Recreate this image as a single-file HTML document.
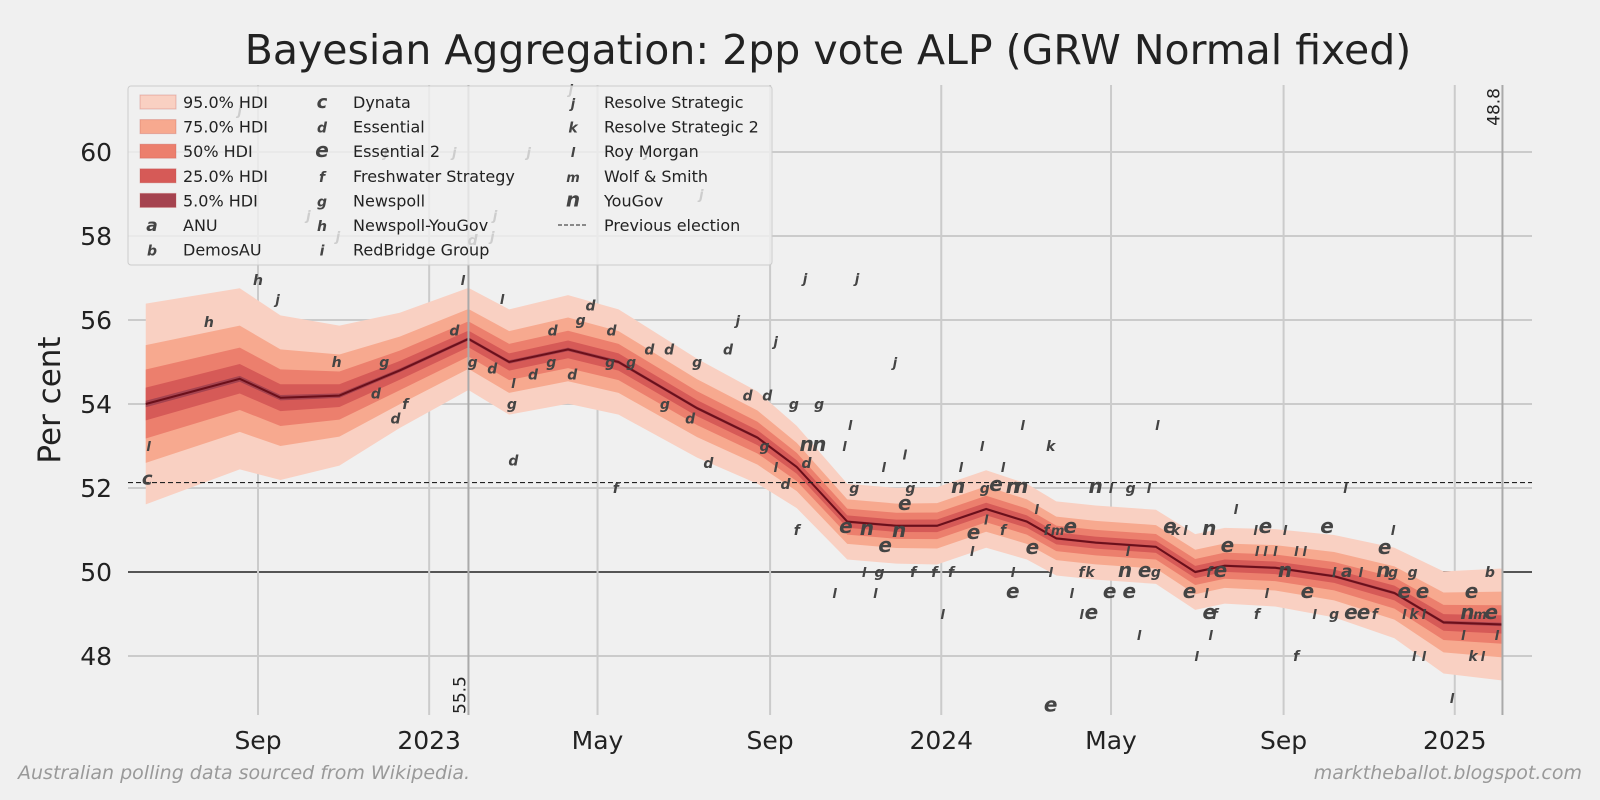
<!DOCTYPE html>
<html><head><meta charset="utf-8"><style>
body{margin:0;background:#f0f0f0;}
svg{display:block;font-family:"DejaVu Sans","Liberation Sans",sans-serif;}
</style></head><body>
<svg id="chart" width="1600" height="800" viewBox="0 0 1600 800">
<rect width="1600" height="800" fill="#f0f0f0"/>
<g id="grid"></g><g id="bands"></g><g id="refs"></g><g id="polls"></g><g id="axes"></g><g id="legend"></g>
<text x="828" y="64" text-anchor="middle" font-size="41" fill="#222">Bayesian Aggregation: 2pp vote ALP (GRW Normal fixed)</text>
<text transform="translate(60,400) rotate(-90)" text-anchor="middle" font-size="31" fill="#222">Per cent</text>
<text x="18" y="779" font-size="19" font-style="italic" fill="#999">Australian polling data sourced from Wikipedia.</text>
<text x="1582" y="779" text-anchor="end" font-size="19" font-style="italic" fill="#999">marktheballot.blogspot.com</text>
</svg>
<script>
// days since 1 Sep 2022
const medDays=[-80,-13,16,58,101,150,179,221,257,313,356,384,420,455,484,519,548,569,597,640,668,689,725,767,810,845,887];
const medVals=[54.0,54.6,54.15,54.2,54.8,55.55,55.0,55.3,55.0,53.9,53.2,52.5,51.2,51.1,51.1,51.5,51.2,50.8,50.7,50.6,50.0,50.15,50.1,49.9,49.5,48.8,48.75];
const sigmas=[1.22,1.1,1.0,0.85,0.7,0.62,0.64,0.66,0.64,0.6,0.56,0.5,0.46,0.46,0.47,0.47,0.46,0.45,0.45,0.45,0.46,0.46,0.47,0.5,0.55,0.62,0.68];
const bandLabels=["95.0% HDI","75.0% HDI","50% HDI","25.0% HDI","5.0% HDI"];
const bandZ=[1.96,1.15,0.674,0.319,0.063];
const bandColors=["#f9d0c2","#f7a98f","#ec7f6d","#d65a57","#a5434f"];
const yTicks=[48,50,52,54,56,58,60];
const xTickDays=[0,122,242,365,487,608,731,853];
const xTickLabels=["Sep","2023","May","Sep","2024","May","Sep","2025"];
const prevElection=52.13;
const pollDays=[-79,-78,-35,-13,0,14,56,90,84,98,105,91,140,146,153,140,167,174,181,182,182,196,209,210,224,230,237,223,193,255,252,251,266,279,293,290,308,313,321,335,342,349,363,369,382,400,361,369,376,384,390,391,400,391,418,422,425,427,419,434,447,446,461,454,432,443,467,482,494,440,411,461,457,465,488,499,510,509,501,516,519,531,518,526,538,544,531,545,538,538,555,552,562,570,565,565,579,587,593,580,587,594,597,608,622,635,607,621,618,632,640,628,620,641,650,654,661,664,678,682,676,679,669,678,678,691,697,686,711,718,712,718,725,732,712,719,732,740,746,740,748,753,762,767,779,788,796,767,776,775,786,802,809,823,803,809,817,817,830,824,831,824,831,851,865,862,871,879,878,859,866,873,883,565,36,57,169,167,153,316,277];
const pollVals=[52.2,53.0,55.95,61,56.95,56.5,55.0,55.0,54.25,53.65,54.0,60,60,56.95,55.0,55.75,54.85,56.5,54.0,54.5,52.65,54.7,55.0,55.75,54.7,56.0,56.35,61.5,60,52.0,55.75,55.0,55.0,55.3,55.3,54.0,53.65,55.0,52.6,55.3,56.0,54.2,54.2,55.5,54.0,54.0,53.0,52.5,52.1,51.0,57.0,53.0,53.0,52.6,53.0,53.5,52.0,57.0,51.05,51.0,50.6,52.5,52.8,55.0,50,50,50,50,50,49.5,49.5,51.6,50.95,52,49,52.0,50.9,50.5,52.5,53,51.25,52.5,52,52.05,52,52,51.0,53.5,49.5,50,51.5,50.55,51,51,53,50,51.05,50,50,49.5,49,49,52,52,52,52,49.5,49.5,50,50,50,48.5,50.5,53.5,51.05,51,51,49.5,49,49,49.5,48.5,48,51,50,50.6,51.5,50,51,51.05,50.5,50.5,50.5,51,49,49.5,50,50.5,50.5,48,49.5,49,51.05,49,49,49,49,50,50,52,50,50,50,50,50.55,51,49.5,49,49.5,49,49,48,48,47,49.5,49,49,49,50,48.5,48,48,48.5,46.8,58.5,58.0,58.5,58.0,57.9,59,60];
const pollLetters=["c","l","h","j","h","j","h","g","d","d","f","j","j","l","g","d","d","l","g","l","d","d","g","d","d","g","d","j","j","f","d","g","g","d","d","g","d","g","d","d","j","d","d","j","g","g","g","l","d","f","j","n","n","d","l","l","g","j","e","n","e","l","l","j","l","g","f","f","f","l","l","e","n","g","l","n","e","l","l","l","l","l","g","e","n","n","f","l","e","l","l","e","f","m","k","l","e","f","k","l","l","e","n","l","g","l","e","e","n","e","g","l","l","l","e","k","l","e","e","f","l","l","l","n","f","e","l","e","l","e","l","l","l","l","f","l","n","l","l","f","e","l","e","g","e","e","f","l","a","l","l","n","g","g","e","l","e","l","e","k","l","l","l","l","e","n","m","e","b","l","k","l","l","e","j","j","j","j","d","j","j"];

const X=d=>258+d*1.403, Y=v=>656-(v-48)*42;
const NS="http://www.w3.org/2000/svg";
function mk(tag,attrs,parent){const e=document.createElementNS(NS,tag);for(const k in attrs)e.setAttribute(k,attrs[k]);parent.appendChild(e);return e;}
const grid=document.getElementById('grid');
yTicks.forEach(v=>{
  const l=mk('line',{x1:128,x2:1532,y1:Y(v),y2:Y(v),stroke:v===50?'#555':'#cbcbcb','stroke-width':2},grid);
  
  
  const t=mk('text',{x:112,y:Y(v)+9,'text-anchor':'end','font-size':25,fill:'#222'},grid);t.textContent=v;
  
  
});
xTickDays.forEach((d,i)=>{
  const l=mk('line',{x1:X(d),x2:X(d),y1:85,y2:715,stroke:'#cbcbcb','stroke-width':2},grid);
  
  
  const t=mk('text',{x:X(d),y:749,'text-anchor':'middle','font-size':25,fill:'#222'},grid);t.textContent=xTickLabels[i];
  
  
});
const bands=document.getElementById('bands');
bandZ.forEach((z,b)=>{
  let p='';medDays.forEach((d,i)=>p+=(i?'L':'M')+X(d)+','+Y(medVals[i]+z*sigmas[i]));
  for(let i=medDays.length-1;i>=0;i--)p+='L'+X(medDays[i])+','+Y(medVals[i]-z*sigmas[i]);
  const e=mk('path',{d:p+'Z',fill:bandColors[b]},bands);
  
  
});
let mp='';medDays.forEach((d,i)=>mp+=(i?'L':'M')+X(d)+','+Y(medVals[i]));
const ml=mk('path',{d:mp,fill:'none',stroke:'#6b0f1a','stroke-width':2},bands);


const refs=document.getElementById('refs');
const pe=mk('line',{x1:128,x2:1532,y1:Y(prevElection),y2:Y(prevElection),stroke:'#222','stroke-width':1.2,'stroke-dasharray':'5,3'},refs);


[[150,55.5,'55.5',true],[887,48.8,'48.8',false]].forEach(r=>{
  const l=mk('line',{x1:X(r[0]),x2:X(r[0]),y1:85,y2:715,stroke:'#aaa','stroke-width':2},refs);
  
  
  const ty=r[3]?714:88, anchor=r[3]?'start':'end';
  const t=mk('text',{transform:`translate(${X(r[0])-3},${ty}) rotate(-90)`,'text-anchor':anchor,'font-size':17,fill:'#222'},refs);t.textContent=r[2];
  
  
});
const polls=document.getElementById('polls');
const sizeOf={e:20,n:20,c:18,a:17,l:13,j:13,m:13};
pollDays.forEach((d,i)=>{
  const ch=pollLetters[i]||'l';
  const t=mk('text',{x:X(d),y:Y(pollVals[i])+5,'text-anchor':'middle','font-size':sizeOf[ch]||14,'font-style':'italic','font-weight':'bold',fill:'#444'},polls);
  t.textContent=ch;
  
  
});
// legend
const lg=document.getElementById('legend');
const box=mk('rect',{x:128,y:86,width:644,height:179,rx:3,fill:'rgba(240,240,240,0.8)',stroke:'#ccc'},lg);


const col1=bandLabels.map((l,i)=>[l,'band',i]).concat([['ANU','a'],['DemosAU','b']]);
const col2=[['Dynata','c'],['Essential','d'],['Essential 2','e'],['Freshwater Strategy','f'],['Newspoll','g'],['Newspoll-YouGov','h'],['RedBridge Group','i']];
const col3=[['Resolve Strategic','j'],['Resolve Strategic 2','k'],['Roy Morgan','l'],['Wolf & Smith','m'],['YouGov','n'],['Previous election','dash']];
[[col1,140,183],[col2,322,353],[col3,573,604]].forEach(([col,sx,tx])=>{
  col.forEach((it,r)=>{
    const y=102+r*24.6;
    if(it[1]==='band'){const s=mk('rect',{x:sx,y:y-7,width:36,height:14,fill:bandColors[it[2]],stroke:'#c0504d','stroke-opacity':0.3},lg);}
    else if(it[1]==='dash'){const s=mk('line',{x1:sx-15,x2:sx+15,y1:y,y2:y,stroke:'#222','stroke-dasharray':'4,2'},lg);}
    else{const cx=it[1]==='a'||it[1]==='b'?sx+12:sx;const s=mk('text',{x:cx,y:y+6,'text-anchor':'middle','font-size':sizeOf[it[1]]||14,'font-style':'italic','font-weight':'bold',fill:'#444'},lg);s.textContent=it[1];}
    const t=mk('text',{x:tx,y:y+6,'font-size':16,fill:'#222'},lg);t.textContent=it[0];
    
    
  });
});
</script>
</body></html>
